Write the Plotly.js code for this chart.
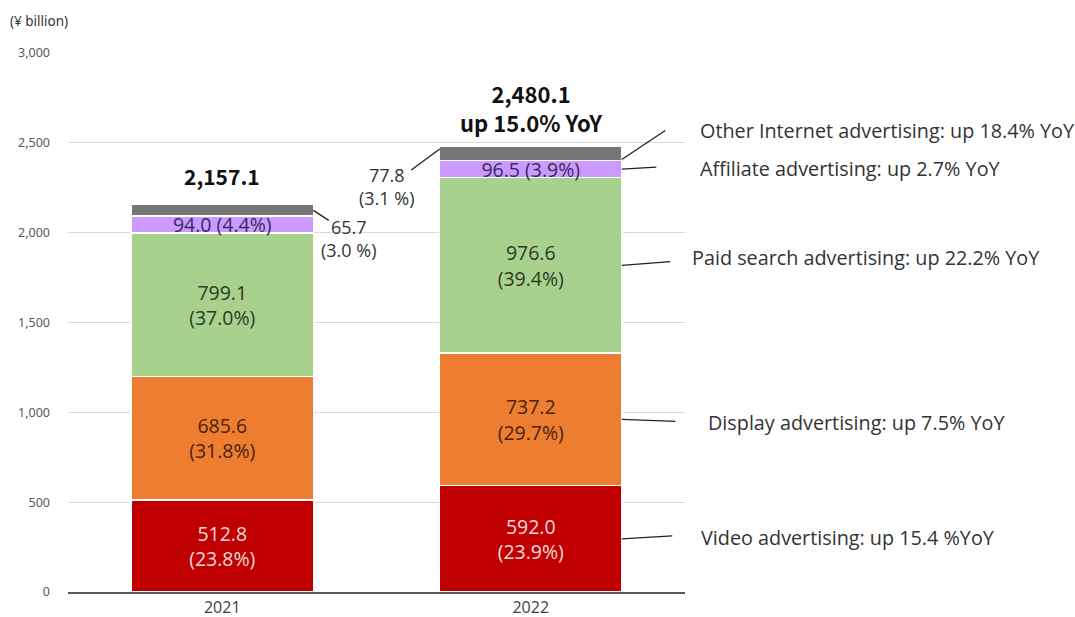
<!DOCTYPE html>
<html>
<head>
<meta charset="utf-8">
<script src="https://cdn.plot.ly/plotly-3.0.1.min.js"></script>
<style>html,body{margin:0;padding:0;background:#fff;}#chart{width:1075px;height:617px;}</style>
</head>
<body>
<div id="chart"></div>
<script>
var years = ["2021", "2022"];
var video = [512.8, 592.0];
var videoPct = ["23.8%", "23.9%"];
var display = [685.6, 737.2];
var displayPct = ["31.8%", "29.7%"];
var paidSearch = [799.1, 976.6];
var paidSearchPct = ["37.0%", "39.4%"];
var affiliate = [94.0, 96.5];
var affiliatePct = ["4.4%", "3.9%"];
var other = [65.7, 77.8];
var otherPct = ["3.0 %", "3.1 %"];
var totals = [2157.1, 2480.1];
var totalLabels = ["2,157.1", "2,480.1<br>up 15.0% YoY"];
var seriesNotes = [
  "Video advertising: up 15.4 %YoY",
  "Display advertising: up 7.5% YoY",
  "Paid search advertising: up 22.2% YoY",
  "Affiliate advertising: up 2.7% YoY",
  "Other Internet advertising: up 18.4% YoY"
];

var FONT = "'Open Sans', 'Noto Sans', sans-serif";
var BOLDFONT = "'Noto Sans CJK JP', 'Noto Sans', sans-serif";
var LBL = 19.5;

function twoLine(vals, pcts) {
  return vals.map(function (v, i) { return v.toFixed(1) + "<br>(" + pcts[i] + ")"; });
}
function oneLine(vals, pcts) {
  return vals.map(function (v, i) { return v.toFixed(1) + " (" + pcts[i] + ")"; });
}

function barTrace(name, vals, color, text, textColor) {
  return {
    type: "bar", name: name, x: years, y: vals,
    marker: { color: color, line: { color: "#ffffff", width: 1.5 } },
    text: text, textposition: text ? "inside" : "none",
    insidetextanchor: "middle", constraintext: "none",
    textfont: { family: FONT, size: LBL, color: textColor },
    hoverinfo: "skip"
  };
}

var data = [
  barTrace("Video", video, "#C00000", twoLine(video, videoPct), "#F3D9D9"),
  barTrace("Display", display, "#ED7D31", twoLine(display, displayPct), "#4A2410"),
  barTrace("Paid search", paidSearch, "#A9D18E", twoLine(paidSearch, paidSearchPct), "#2E3A28"),
  barTrace("Affiliate", affiliate, "#CC99FF", oneLine(affiliate, affiliatePct), "#3A2A5C"),
  barTrace("Other", other, "#767676", null, "#333")
];

function cum(idx, upto) {
  var arrs = [video, display, paidSearch, affiliate, other];
  var s = 0;
  for (var k = 0; k < upto; k++) s += arrs[k][idx];
  return s;
}
function mid(idx, k) {
  var arrs = [video, display, paidSearch, affiliate, other];
  return cum(idx, k) + arrs[k][idx] / 2;
}
var HALF = 0.295;

var annotations = [];
annotations.push({ xref: "paper", yref: "paper", x: -0.097, y: 1.06, xanchor: "left", yanchor: "middle",
  text: "(¥ billion)", showarrow: false, font: { family: "'Noto Sans', sans-serif", size: 13.5, color: "#333" } });

annotations.push({ x: 0, y: totals[0], xref: "x", yref: "y", text: "<b>" + totalLabels[0] + "</b>",
  showarrow: false, yanchor: "bottom", yshift: 11, font: { family: BOLDFONT, size: 21, color: "#111" } });
annotations.push({ x: 1, y: totals[1], xref: "x", yref: "y", text: "<b>" + totalLabels[1] + "</b>",
  showarrow: false, yanchor: "bottom", yshift: 6, font: { family: BOLDFONT, size: 22, color: "#111" } });

annotations.push({ x: HALF, y: mid(0, 4), xref: "x", yref: "y", text: "", showarrow: true,
  arrowhead: 0, arrowwidth: 1.3, arrowcolor: "#222", ax: 17, ay: 11, standoff: 0 });
annotations.push({ x: HALF, y: mid(0, 4), xref: "x", yref: "y",
  text: other[0].toFixed(1) + "<br>(" + otherPct[0] + ")", showarrow: false,
  xanchor: "center", yanchor: "top", xshift: 36, yshift: -3, align: "center",
  font: { family: FONT, size: 18, color: "#333" } });

annotations.push({ x: 1 - HALF, y: totals[1] - 15, xref: "x", yref: "y", text: "", showarrow: true,
  arrowhead: 0, arrowwidth: 1.3, arrowcolor: "#222", ax: -30, ay: 22, standoff: 0 });
annotations.push({ x: 1 - HALF, y: totals[1] - 15, xref: "x", yref: "y",
  text: other[1].toFixed(1) + "<br>(" + otherPct[1] + ")", showarrow: false,
  xanchor: "center", yanchor: "top", xshift: -53, yshift: -12, align: "center",
  font: { family: FONT, size: 18, color: "#333" } });

var noteCfg = [
  { k: 0, ax: 52, ay: -3, tx: 699, ty: 1 },
  { k: 1, ax: 55, ay: 2, tx: 706, ty: -3 },
  { k: 2, ax: 50, ay: -4, tx: 690, ty: 8 },
  { k: 3, ax: 36, ay: -2, tx: 698, ty: 1 },
  { k: 4, ax: 45, ay: -30, tx: 698, ty: 29 }
];
noteCfg.forEach(function (c) {
  var yv = c.k === 4 ? cum(1, 4) + 5 : mid(1, c.k);
  annotations.push({ x: 1 + HALF, y: yv, xref: "x", yref: "y", text: "", showarrow: true,
    arrowhead: 0, arrowwidth: 1.3, arrowcolor: "#222", ax: c.ax, ay: c.ay, standoff: 0 });
  annotations.push({ x: (c.tx - 68) / 617, y: yv, xref: "paper", yref: "y",
    text: seriesNotes[c.k], showarrow: false, xanchor: "left", yanchor: "middle", yshift: c.ty,
    font: { family: FONT, size: 19.8, color: "#333" } });
});

var layout = {
  width: 1075, height: 617,
  margin: { l: 68, r: 390, t: 53, b: 25, pad: 0 },
  paper_bgcolor: "#fff", plot_bgcolor: "#fff",
  barmode: "stack", bargap: 0.41,
  showlegend: false,
  font: { family: FONT },
  xaxis: {
    type: "category", showgrid: false, zeroline: false,
    showline: true, linecolor: "#595959", linewidth: 2,
    ticks: "", tickfont: { family: FONT, size: 16, color: "#404040" }
  },
  yaxis: {
    range: [0, 3000], tickvals: [0, 500, 1000, 1500, 2000, 2500, 3000],
    ticktext: ["0", "500", "1,000", "1,500", "2,000", "2,500", "3,000"],
    showgrid: true, gridcolor: "#D9D9D9", gridwidth: 1,
    zeroline: false, showline: false, ticks: "", ticklabelstandoff: 17,
    tickfont: { family: "'Noto Sans', sans-serif", size: 12.5, color: "#595959" }
  },
  annotations: annotations
};

Plotly.newPlot("chart", data, layout, { displayModeBar: false, staticPlot: true });
</script>
</body>
</html>
